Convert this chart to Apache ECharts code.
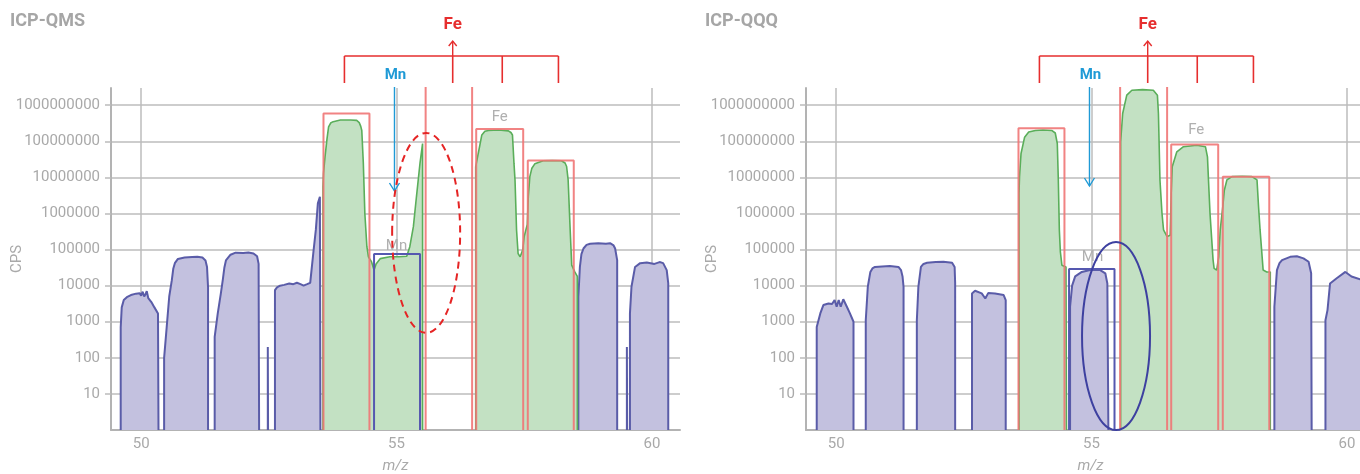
<!DOCTYPE html>
<html>
<head>
<meta charset="utf-8">
<script src="https://cdn.jsdelivr.net/npm/echarts@6/dist/echarts.min.js"></script>
<style>
  html, body { margin: 0; padding: 0; background: #fff; }
  #chart { width: 1360px; height: 474px; }
</style>
</head>
<body>
<div id="chart"></div>
<script>
// ---- data: [m/z, CPS] ----
const xTicks = [50, 55, 60];

// ICP-QMS (left)
const qmsPurple = [
  [[49.60,1],[49.60,700],[49.62,2500],[49.66,4000],[49.72,4800],[49.80,5500],[49.90,6000],[49.97,6200],[50.00,5300],[50.03,6800],[50.06,5000],[50.09,6000],[50.11,7000],[50.14,4500],[50.20,3500],[50.26,2500],[50.33,1700],[50.34,1]],
  [[50.45,1],[50.45,100],[50.50,700],[50.55,5000],[50.60,14000],[50.63,30000],[50.66,42000],[50.72,55000],[50.85,60000],[51.00,62000],[51.10,63000],[51.20,60000],[51.26,50000],[51.29,33000],[51.31,9000],[51.31,1]],
  [[51.44,1],[51.44,380],[51.50,1700],[51.56,6000],[51.60,15000],[51.63,32000],[51.66,50000],[51.75,72000],[51.85,82000],[52.00,80000],[52.10,83000],[52.20,78000],[52.27,65000],[52.30,40000],[52.31,1]],
  [[52.48,1],[52.48,200],[52.485,1]],
  [[52.62,1],[52.62,7500],[52.66,9000],[52.72,10000],[52.80,10500],[52.90,11500],[52.98,11000],[53.05,12000],[53.12,11000],[53.18,10000],[53.25,11000],[53.31,12000],[53.37,78000],[53.42,350000],[53.46,1900000],[53.50,2900000],[53.51,1]],
  [[58.56,1],[58.56,4900],[58.59,33000],[58.62,75000],[58.66,107000],[58.72,135000],[58.79,145000],[58.95,150000],[59.10,145000],[59.18,150000],[59.25,130000],[59.28,107000],[59.32,51000],[59.32,1]],
  [[59.51,1],[59.51,200],[59.515,1]],
  [[59.57,1],[59.57,1700],[59.60,9300],[59.67,33000],[59.77,42000],[59.90,44000],[60.05,40000],[60.15,45000],[60.22,42000],[60.29,27000],[60.32,11500],[60.32,1]]
];
const qmsGreen = [
  [[53.56,1],[53.56,5.5e6],[53.57,1.3e7],[53.60,3.7e7],[53.64,1.2e8],[53.67,2.5e8],[53.71,3.2e8],[53.76,3.5e8],[53.90,3.9e8],[54.10,3.9e8],[54.22,3.8e8],[54.27,3.3e8],[54.30,2.6e8],[54.32,2e8],[54.35,2.5e7],[54.38,1e6],[54.42,1.2e5],[54.45,6.3e4],[54.51,4.6e4],[54.56,2.7e4],[54.60,4e4],[54.68,5.6e4],[54.87,6.3e4],[55.05,6.3e4],[55.20,6.5e4],[55.26,1.2e5],[55.33,4.3e5],[55.39,2.9e6],[55.46,2.5e7],[55.51,8.7e7],[55.51,1]],
  [[56.55,1],[56.55,1.96e7],[56.60,4.6e7],[56.67,1.5e8],[56.73,1.9e8],[56.80,2.0e8],[57.00,2.05e8],[57.19,1.95e8],[57.24,1.75e8],[57.27,1.5e8],[57.30,2.4e7],[57.32,8.5e6],[57.35,3.5e5],[57.38,7.8e4],[57.42,6.3e4],[57.47,9.7e4],[57.50,2.3e5],[57.56,5e5],[57.58,2.9e6],[57.61,1.05e7],[57.65,1.8e7],[57.71,2.4e7],[57.87,2.9e7],[58.05,2.95e7],[58.23,2.9e7],[58.30,2.5e7],[58.33,2e7],[58.36,8.5e6],[58.40,3.5e5],[58.43,3.7e4],[58.49,2.4e4],[58.54,1.8e4],[58.54,1]]
];
// [from, to, top]
const qmsFeBoxes = [[53.57,54.47,5.9e8],[55.57,56.48,1e11],[56.56,57.48,2.2e8],[57.57,58.47,2.95e7]];
const qmsMnBox = [[54.56,55.46,7.5e4]];

// ICP-QQQ (right)
const qqqPurple = [
  [[49.62,1],[49.62,720],[49.69,1700],[49.75,2900],[49.85,3200],[49.92,3100],[49.97,4000],[50.01,2600],[50.05,4000],[50.09,2600],[50.14,4200],[50.21,2600],[50.27,1700],[50.34,1000],[50.34,1]],
  [[50.58,1],[50.58,1100],[50.62,9300],[50.67,24000],[50.71,30000],[50.76,33000],[50.90,34000],[51.05,35000],[51.22,33000],[51.27,27000],[51.30,18000],[51.32,9300],[51.32,1]],
  [[51.58,1],[51.58,1100],[51.61,9300],[51.66,33000],[51.71,40000],[51.78,43000],[51.95,45000],[52.10,46000],[52.27,43000],[52.32,33000],[52.33,12000],[52.33,1]],
  [[52.66,1],[52.66,6100],[52.72,7200],[52.85,6100],[52.92,4400],[52.98,6300],[53.11,6100],[53.28,5500],[53.32,4000],[53.32,1]],
  [[54.58,1],[54.58,2600],[54.62,10000],[54.68,18000],[54.81,24000],[54.97,27000],[55.17,27000],[55.27,22000],[55.31,11500],[55.33,1]],
  [[58.58,1],[58.58,2600],[58.63,27000],[58.68,42000],[58.73,51000],[58.89,63000],[59.02,65000],[59.15,57000],[59.25,46000],[59.30,22000],[59.31,1]],
  [[59.58,1],[59.58,1100],[59.62,2100],[59.67,11500],[59.80,16000],[59.97,24000],[60.09,18000],[60.26,15000],[60.40,12000],[60.45,1]]
];
const qqqGreen = [
  [[53.58,1],[53.58,3.6e6],[53.59,1.05e7],[53.62,4.6e7],[53.69,1.3e8],[53.77,1.8e8],[53.90,2e8],[54.05,2.05e8],[54.22,2e8],[54.29,1.7e8],[54.33,8.7e7],[54.35,8.5e6],[54.37,3.5e5],[54.39,8.7e4],[54.42,3.7e4],[54.50,3.3e4],[54.51,1]],
  [[55.57,1],[55.57,9.7e7],[55.61,5.9e8],[55.69,1.9e9],[55.79,2.6e9],[56.00,2.7e9],[56.21,2.6e9],[56.29,1.9e9],[56.31,5.9e8],[56.34,8.5e6],[56.38,1e6],[56.41,3.5e5],[56.48,2.3e5],[56.54,2.5e5],[56.56,3.6e6],[56.58,1.96e7],[56.67,5.1e7],[56.80,7.1e7],[57.06,7.8e7],[57.23,7.1e7],[57.27,3.7e7],[57.29,8.5e6],[57.32,1e6],[57.38,5.1e4],[57.40,3e4],[57.45,2.7e4],[57.49,6.3e4],[57.52,3.5e5],[57.57,1.55e6],[57.60,4.4e6],[57.65,8.5e6],[57.75,1.05e7],[57.95,1.08e7],[58.14,1.05e7],[58.24,8.5e6],[58.27,1.55e6],[58.30,3.5e5],[58.36,2.7e4],[58.43,2.4e4],[58.50,2.4e4],[58.50,1]]
];
const qqqFeBoxes = [[53.57,54.47,2.3e8],[55.56,56.48,1e11],[56.56,57.48,8.2e7],[57.57,58.48,1.05e7]];
const qqqMnBox = [[54.56,55.45,2.9e4]];

// Fe isotope bracket and Mn arrow positions (m/z)
const feBracket = [53.98, 56.1, 57.07, 58.17];
const mnArrow = 54.96;

// ---- helpers ----
function joinPeaks(peaks) {
  const out = [];
  peaks.forEach((p, i) => {
    if (i) out.push([p[0][0], '-']);
    p.forEach(pt => out.push(pt));
  });
  return out;
}
function boxLines(boxes) {
  const out = [];
  boxes.forEach((b, i) => {
    if (i) out.push([b[0], '-']);
    out.push([b[0], 1], [b[0], b[2]], [b[1], b[2]], [b[1], 1]);
  });
  return out;
}

const FONT = 'Roboto';
const GREY = '#a9a9a9';
const GRID_LINE = '#bcbcbc';

function xAxisFor(i) {
  return {
    type: 'value', gridIndex: i, min: 49.41, max: 60.55,
    name: 'm/z', nameLocation: 'middle', nameGap: 29, nameMoveOverlap: false,
    nameTextStyle: { color: GREY, fontFamily: FONT, fontSize: 15, fontStyle: 'italic' },
    axisLine: { show: true, lineStyle: { color: '#b3b3b3', width: 2 } },
    axisTick: { show: false, customValues: xTicks },
    axisLabel: { customValues: xTicks, color: GREY, fontFamily: FONT, fontSize: 15, margin: 7 },
    splitLine: { show: true, lineStyle: { color: GRID_LINE, width: 1.5 } }
  };
}
function yAxisFor(i) {
  return {
    type: 'log', gridIndex: i, min: 1, max: 3e9, logBase: 10, splitNumber: 10,
    name: 'CPS', nameLocation: 'middle', nameGap: 86, nameRotate: 90, nameMoveOverlap: false,
    nameTextStyle: { color: GREY, fontFamily: FONT, fontSize: 15 },
    axisLine: { show: true, lineStyle: { color: '#b3b3b3', width: 2 } },
    axisTick: { show: true, length: 6, lineStyle: { color: GRID_LINE, width: 1.5 } },
    axisLabel: {
      color: GREY, fontFamily: FONT, fontSize: 15, margin: 11, padding: [0, 0, 10, 0],
      showMinLabel: false, showMaxLabel: false,
      formatter: v => {
        const l = Math.log10(v);
        if (l < 0.5 || Math.abs(l - Math.round(l)) > 1e-6) return '';
        return String(Math.round(v));
      }
    },
    splitLine: { show: true, showMaxLine: false, lineStyle: { color: GRID_LINE, width: 1.5 } }
  };
}

function seriesFor(i, purple, green, feBoxes, mnBox) {
  const base = { type: 'line', xAxisIndex: i, yAxisIndex: i, symbol: 'none', smooth: false, connectNulls: false, animation: false, silent: true };
  return [
    Object.assign({}, base, {
      data: joinPeaks(purple),
      lineStyle: { color: '#5a5ca8', width: 2 },
      areaStyle: { color: '#c3c1df', opacity: 1, origin: 'start' }
    }),
    Object.assign({}, base, {
      data: joinPeaks(green),
      lineStyle: { color: '#5aae5a', width: 1.6 },
      areaStyle: { color: '#c3e1c3', opacity: 1, origin: 'start' }
    }),
    Object.assign({}, base, {
      data: boxLines(feBoxes),
      lineStyle: { color: '#f07575', width: 2, opacity: 0.9 }
    }),
    Object.assign({}, base, {
      data: boxLines(mnBox),
      lineStyle: { color: '#5558b0', width: 2 }
    })
  ];
}

const chart = echarts.init(document.getElementById('chart'));
chart.setOption({
  animation: false,
  grid: [
    { left: 111, top: 88, width: 569, bottom: 44, outerBoundsMode: 'none', containLabel: false },
    { left: 806, top: 88, width: 569, bottom: 44, outerBoundsMode: 'none', containLabel: false }
  ],
  xAxis: [xAxisFor(0), xAxisFor(1)],
  yAxis: [yAxisFor(0), yAxisFor(1)],
  series: [].concat(
    seriesFor(0, qmsPurple, qmsGreen, qmsFeBoxes, qmsMnBox),
    seriesFor(1, qqqPurple, qqqGreen, qqqFeBoxes, qqqMnBox)
  )
});

// ---- annotations ----
function px(i, x, y) { return chart.convertToPixel({ gridIndex: i }, [x, y]); }

function panelGraphics(i, title, titleX, ellipse) {
  const g = [];
  const RED = '#e62e2e';
  const BLUE = '#1f9ad6';
  const xs = feBracket.map(m => px(i, m, 10)[0]);
  g.push({ type: 'text', x: titleX, y: 21, style: { text: title, fill: '#a6a6a6', font: 'bold 18px ' + FONT, verticalAlign: 'middle' } });
  // Fe bracket
  g.push({ type: 'line', shape: { x1: xs[0], y1: 56, x2: xs[3], y2: 56 }, style: { stroke: RED, lineWidth: 1.6 } });
  xs.forEach(x => g.push({ type: 'line', shape: { x1: x, y1: 56, x2: x, y2: 83 }, style: { stroke: RED, lineWidth: 1.6 } }));
  g.push({ type: 'line', shape: { x1: xs[1], y1: 56, x2: xs[1], y2: 41 }, style: { stroke: RED, lineWidth: 1.4 } });
  g.push({ type: 'polyline', shape: { points: [[xs[1] - 4, 46], [xs[1], 41], [xs[1] + 4, 46]] }, style: { stroke: RED, lineWidth: 1.4, fill: null } });
  g.push({ type: 'text', x: xs[1], y: 25, style: { text: 'Fe', fill: RED, font: 'bold 17px ' + FONT, align: 'center', verticalAlign: 'middle' } });
  // Mn arrow
  const mx = px(i, mnArrow, 10)[0];
  const tip = i === 0 ? 191 : 186;
  g.push({ type: 'text', x: mx + 1, y: 75, style: { text: 'Mn', fill: BLUE, font: 'bold 15px ' + FONT, align: 'center', verticalAlign: 'middle' } });
  g.push({ type: 'line', shape: { x1: mx, y1: 87, x2: mx, y2: tip }, style: { stroke: BLUE, lineWidth: 1.4 } });
  g.push({ type: 'polyline', shape: { points: [[mx - 5, tip - 8], [mx, tip], [mx + 5, tip - 8]] }, style: { stroke: BLUE, lineWidth: 1.4, fill: null } });
  // ellipse
  const c = px(i, ellipse.x, ellipse.y);
  g.push({ type: 'ellipse', z: 100, shape: { cx: c[0], cy: c[1], rx: ellipse.rx, ry: ellipse.ry },
    style: { fill: null, stroke: ellipse.color, lineWidth: 2, lineDash: ellipse.dash } });
  return g;
}

function peakLabel(i, text, x, y) {
  const p = px(i, x, y);
  return { type: 'text', z: 50, x: p[0], y: p[1], style: { text: text, fill: '#b0b0b0', font: '15px ' + FONT, align: 'center', verticalAlign: 'middle' } };
}

const graphics = [].concat(
  panelGraphics(0, 'ICP-QMS', 10, { x: 55.58, y: 2.9e5, rx: 34, ry: 100, color: '#e52424', dash: [7, 5] }),
  panelGraphics(1, 'ICP-QQQ', 705, { x: 55.48, y: 400, rx: 34, ry: 94, color: '#3d40a0', dash: null }),
  [
    peakLabel(0, 'Fe', 57.02, 4.5e8),
    peakLabel(0, 'Mn', 55.0, 1.2e5),
    peakLabel(1, 'Fe', 57.05, 2.0e8),
    peakLabel(1, 'Mn', 55.02, 6e4)
  ]
);
chart.setOption({ graphic: graphics });
</script>
</body>
</html>
